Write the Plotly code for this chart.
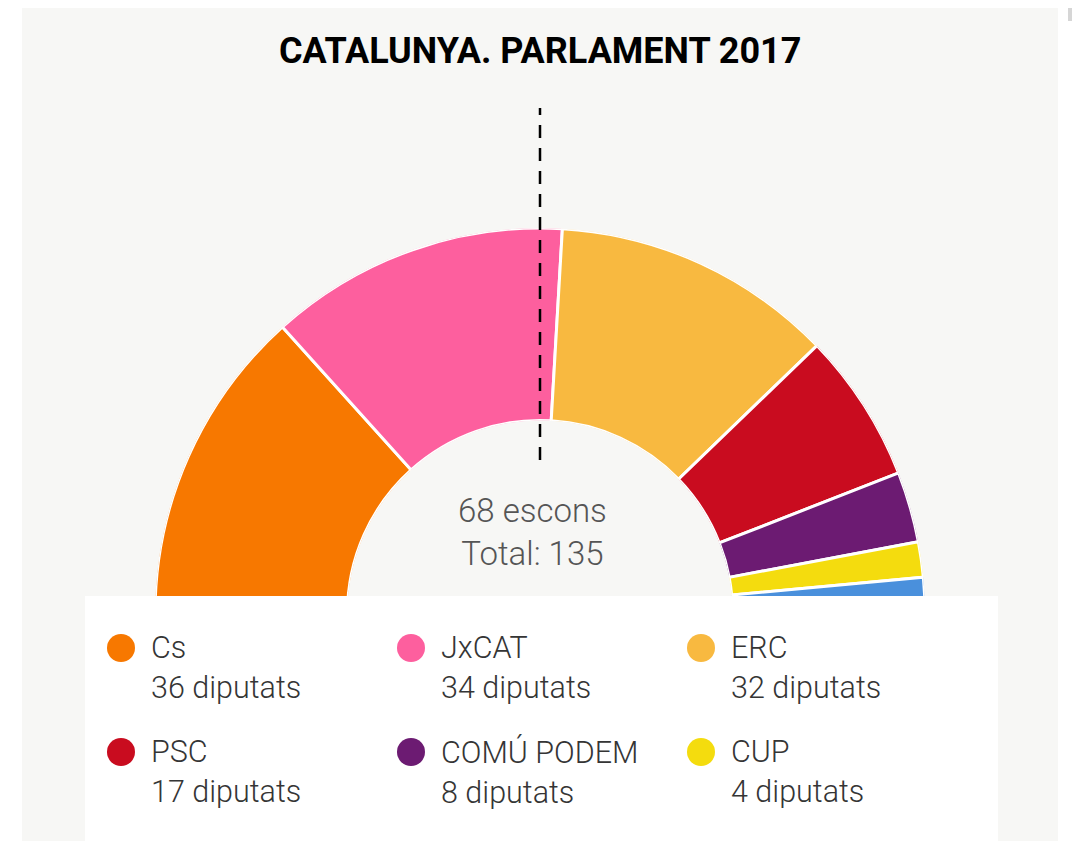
import plotly.graph_objects as go

# dades: Parlament de Catalunya 2017
partits = ["Cs", "JxCAT", "ERC", "PSC", "COMÚ PODEM", "CUP", "PP"]
escons = [36, 34, 32, 17, 8, 4, 4]
colors = ["#f77800", "#fd5f9e", "#f8b940", "#c90c1f", "#6c1b72", "#f4dc0e", "#4a90dc"]
majoria = 68

W, H = 1080, 841
OFF = 8  # marge del body de la pàgina
total = sum(escons)


def px(x):
    return (x - OFF) / W


def py(y):
    return 1 - (y - OFF) / H


# angles de cada sector (0 = esquerra, sentit horari)
amples = [e * 180 / total for e in escons]
centres = []
acc = 0
for a in amples:
    centres.append(acc + a / 2)
    acc += a

fig = go.Figure()
fig.add_trace(go.Barpolar(
    r=[1] * len(escons),
    theta=centres,
    width=amples,
    base=0,
    marker=dict(color=colors, line=dict(color="white", width=3)),
    text=partits,
    hovertemplate="%{text}<extra></extra>",
))

# geometria del semicercle en píxels
cx, cy, R = 540, 613, 385
fig.update_layout(
    width=W, height=H,
    margin=dict(l=0, r=0, t=0, b=0),
    paper_bgcolor="#f7f7f5",
    showlegend=False,
    polar=dict(
        domain=dict(x=[px(cx - R), px(cx + R)], y=[py(cy), py(cy - R)]),
        sector=[0, 180],
        hole=0.5,
        bgcolor="rgba(0,0,0,0)",
        radialaxis=dict(range=[0, 1], visible=False),
        angularaxis=dict(direction="clockwise", rotation=180, visible=False),
    ),
    font=dict(family="Roboto", color="#3c3c3c"),
)

shapes = [
    # marges blancs laterals
    dict(type="rect", xref="paper", yref="paper", x0=0, x1=px(22), y0=0, y1=1,
         fillcolor="white", line_width=0, layer="below"),
    dict(type="rect", xref="paper", yref="paper", x0=px(1058), x1=1, y0=0, y1=1,
         fillcolor="white", line_width=0, layer="below"),
    dict(type="rect", xref="paper", yref="paper", x0=px(1068), x1=px(1080), y0=py(21), y1=1,
         fillcolor="#d6d6d6", line_width=0, layer="above"),
    # línia de majoria
    dict(type="line", xref="paper", yref="paper", x0=px(540), x1=px(540),
         y0=py(460), y1=py(108),
         line=dict(color="black", width=2.5, dash="13px,10px"), layer="above"),
    # caixa de la llegenda
    dict(type="rect", xref="paper", yref="paper", x0=px(85), x1=px(998),
         y0=-0.1, y1=py(596), fillcolor="white", line_width=0, layer="above"),
]

annotations = [
    dict(text="<b>CATALUNYA. PARLAMENT 2017</b>", x=px(540), y=py(51), xref="paper", yref="paper",
         showarrow=False, font=dict(size=36, color="black", family="Roboto"),
         xanchor="center", yanchor="middle"),
    dict(text=f"{majoria} escons<br>Total: {total}", x=px(532), y=py(532), xref="paper", yref="paper",
         showarrow=False, font=dict(size=33, color="#555555", weight=300),
         xanchor="center", yanchor="middle"),
]

# llegenda en graella de 3 columnes
for i, (p, e, c) in enumerate(zip(partits, escons, colors)):
    col, fila = i % 3, i // 3
    dx = 121 + col * 290
    dy = 648 + fila * 104
    shapes.append(dict(type="circle", xref="paper", yref="paper",
                       xsizemode="pixel", ysizemode="pixel",
                       xanchor=px(dx), yanchor=py(dy),
                       x0=-14, x1=14, y0=-14, y1=14,
                       fillcolor=c, line_width=0, layer="above"))
    if dy + 30 < H:
        annotations.append(dict(text=f"{p}<br>{e} diputats", x=px(dx + 28), y=py(dy + 19.5),
                                xref="paper", yref="paper", showarrow=False, align="left",
                                xanchor="left", yanchor="middle",
                                font=dict(size=30.5, color="#353535", weight=300)))

fig.update_layout(shapes=shapes, annotations=annotations)

fig.write_html("out.html")
